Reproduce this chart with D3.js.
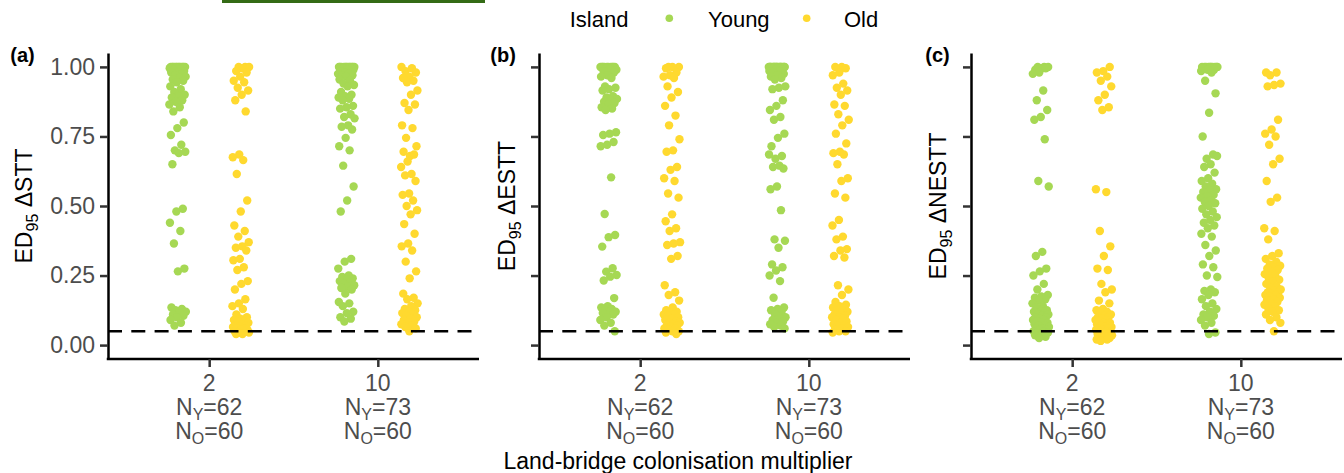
<!DOCTYPE html>
<html><head><meta charset="utf-8">
<script src="https://cdn.jsdelivr.net/npm/d3@7"></script>
<style>
body{margin:0;background:#fff}
svg{display:block}
text{font-family:"Liberation Sans",Arial,Helvetica,sans-serif}
</style>
</head><body>
<svg id="chart" width="1344" height="473"></svg>
<script>
// ---------------- DATA ----------------
const categories = ["2", "10"];
const islandGroups = ["Young", "Old"];
const panelTags = ["(a)", "(b)", "(c)"];
const panelMetrics = ["STT", "ESTT", "NESTT"];
const yTickValues = [0, 0.25, 0.5, 0.75, 1];
const nYoung = [62, 73];
const nOld = [60, 60];
const threshold = 0.05;
const xTitle = "Land-bridge colonisation multiplier";

// Panel (a): ED95 ΔSTT
const sttYoung2 = [1,1,1,1,1,1,1,1,1,1,1,1,0.995,0.99,0.99,0.985,0.98,0.98,
  0.975,0.97,0.965,0.96,0.955,0.95,0.945,0.93,0.92,0.91,0.9,0.895,0.89,0.88,0.875,
  0.865,0.855,0.84,0.80,0.78,0.755,0.72,0.70,0.695,0.69,0.65,
  0.49,0.48,0.44,0.41,0.365,0.275,0.265,
  0.135,0.13,0.125,0.12,0.115,0.11,0.105,0.1,0.09,0.08,0.07];
const sttOld2 = [1,1,1,0.995,0.985,0.98,0.965,0.95,0.945,0.925,0.915,0.9,0.88,0.84,
  0.685,0.675,0.665,0.615,
  0.52,0.48,0.43,0.41,0.39,0.37,0.355,0.35,0.34,0.31,0.305,0.28,0.27,
  0.23,0.22,0.2,0.165,0.15,0.14,0.13,0.11,0.1,
  0.095,0.09,0.085,0.085,0.08,0.075,0.07,0.07,0.065,0.065,0.06,0.06,0.055,0.055,0.05,0.05,0.045,0.045,0.04,0.04];
const sttYoung10 = [1,1,1,1,1,1,1,1,1,1,1,1,0.995,0.99,0.99,
  0.985,0.98,0.98,0.975,0.975,0.97,0.97,0.965,
  0.955,0.95,0.94,0.935,0.93,0.91,0.9,0.895,0.89,0.885,0.88,
  0.86,0.855,0.85,0.83,0.82,0.815,0.79,0.785,0.775,
  0.745,0.715,0.70,0.645,0.57,0.52,0.48,0.31,0.30,0.275,
  0.25,0.245,0.24,0.235,0.23,0.225,0.22,0.215,0.21,0.205,0.2,
  0.185,0.155,0.15,0.14,0.12,0.115,0.1,0.095,0.085];
const sttOld10 = [1,0.995,0.985,0.98,0.965,0.96,0.95,0.945,0.915,0.9,0.87,0.865,0.845,0.79,0.78,0.745,0.715,0.68,
  0.695,0.685,0.66,0.64,0.615,0.61,0.59,
  0.545,0.54,0.52,0.5,0.485,0.47,0.435,
  0.4,0.365,0.355,0.34,0.3,0.265,0.24,
  0.185,0.17,0.165,0.15,0.14,0.13,0.125,0.12,0.115,0.11,0.105,0.1,0.095,0.09,0.085,0.08,0.075,0.07,0.065,0.06,0.05];

// Panel (b): ED95 ΔESTT
const esttYoung2 = [1,1,1,1,1,1,1,1,1,1,0.995,0.99,0.99,0.985,0.98,
  0.97,0.965,0.96,0.93,0.925,0.92,0.915,0.895,0.89,0.885,0.88,0.875,0.87,0.865,
  0.855,0.85,0.845,0.765,0.76,0.755,0.73,0.72,0.715,
  0.603,0.471,0.396,0.388,0.354,0.276,0.264,0.252,0.246,0.232,0.169,
  0.14,0.135,0.13,0.125,0.12,0.12,0.115,0.11,0.1,0.09,0.08,0.07,0.05];
const esttOld2 = [1,1,1,0.995,0.98,0.97,0.965,0.96,0.93,0.91,0.89,0.86,0.825,0.79,0.74,0.70,
  0.695,0.64,0.63,0.6,0.59,0.545,0.53,
  0.47,0.445,0.42,0.41,0.37,0.365,0.36,0.32,0.31,
  0.215,0.19,0.18,0.16,
  0.135,0.125,0.12,0.115,0.11,0.11,0.105,0.1,0.095,0.09,0.085,0.08,0.08,0.075,0.07,0.07,0.065,0.06,0.06,0.055,0.05,0.05,0.045,0.04];
const esttYoung10 = [1,1,1,1,1,1,1,1,1,1,1,1,1,1,1,1,1,1,0.995,0.995,0.99,0.99,0.985,0.985,
  0.98,0.975,0.97,0.965,0.96,0.955,0.93,0.925,0.92,
  0.88,0.86,0.845,0.82,0.81,0.76,0.745,0.715,0.68,0.67,
  0.685,0.645,0.64,0.635,0.57,0.56,0.485,
  0.38,0.375,0.35,0.29,0.28,0.268,0.25,0.23,0.17,
  0.135,0.13,0.125,0.12,0.11,0.1,0.095,0.09,0.085,0.08,0.075,0.07,0.065,0.06];
const esttOld10 = [1,1,0.995,0.98,0.97,0.94,0.925,0.915,0.9,0.865,0.86,0.83,0.81,0.79,0.76,0.725,0.695,0.69,
  0.685,0.65,0.6,0.59,0.545,0.53,
  0.45,0.43,0.39,0.38,0.345,0.34,0.32,0.315,
  0.215,0.2,0.18,
  0.155,0.145,0.14,0.135,0.13,0.125,0.12,0.115,0.11,0.105,0.1,0.1,0.095,0.09,0.085,0.08,0.075,0.07,0.07,0.065,0.06,0.055,0.05,0.05,0.045];

// Panel (c): ED95 ΔNESTT
const nesttYoung2 = [1,1,1,0.995,0.99,0.995,0.98,0.975,0.915,0.88,0.845,0.82,0.81,0.74,
  0.59,0.57,
  0.335,0.32,0.275,0.265,0.25,0.22,0.2,
  0.18,0.175,0.17,0.165,0.16,0.15,0.14,0.135,
  0.125,0.12,0.12,0.115,0.11,0.11,0.105,0.1,0.1,0.095,0.09,0.09,0.085,0.08,0.08,0.075,0.07,0.07,0.065,0.06,0.06,0.055,0.055,0.05,0.05,0.045,0.045,
  0.04,0.035,0.03,0.025];
const nesttOld2 = [1,0.985,0.98,0.965,0.95,0.93,0.9,0.88,0.855,0.845,
  0.56,0.55,0.41,0.355,0.32,0.275,0.27,0.22,0.2,0.19,0.16,0.15,
  0.13,0.125,0.12,0.115,0.11,0.105,0.1,0.1,0.095,0.09,0.09,0.085,0.08,0.08,0.075,0.07,
  0.07,0.065,0.065,0.06,0.06,0.055,0.055,0.05,0.05,0.045,0.045,0.04,0.04,0.035,0.035,
  0.03,0.03,0.025,0.025,0.02,0.02,0.015];
const nesttYoung10 = [1,1,1,1,1,1,1,1,1,1,0.995,0.99,0.99,0.985,0.98,
  0.95,0.905,0.835,0.75,0.685,0.67,
  0.68,0.65,0.64,0.62,0.6,0.59,0.58,0.57,
  0.56,0.555,0.55,0.54,0.535,0.53,0.52,0.515,0.51,0.5,0.49,0.48,
  0.47,0.46,0.45,0.44,0.43,0.42,0.4,0.39,
  0.36,0.34,0.32,0.29,0.28,0.25,0.245,
  0.2,0.195,0.19,0.18,0.165,
  0.15,0.14,0.13,0.12,0.11,0.105,0.1,0.09,0.08,0.07,0.045,0.04];
const nesttOld10 = [0.98,0.98,0.97,0.94,0.935,0.93,0.81,0.775,0.76,0.75,0.72,0.67,
  0.65,0.59,0.53,0.515,0.42,0.41,0.38,
  0.33,0.32,0.31,0.3,0.29,0.285,0.28,0.275,0.27,0.265,0.255,
  0.25,0.24,0.235,0.23,0.22,0.21,0.205,
  0.2,0.195,0.19,0.19,0.185,0.18,0.18,0.175,0.17,0.165,
  0.16,0.155,0.15,0.145,0.14,0.13,0.125,0.12,0.11,0.1,0.09,0.08,0.05];

const panelData = [
  [[sttYoung2, sttOld2], [sttYoung10, sttOld10]],
  [[esttYoung2, esttOld2], [esttYoung10, esttOld10]],
  [[nesttYoung2, nesttOld2], [nesttYoung10, nesttOld10]]
];

// ---------------- STYLE / LAYOUT ----------------
const colors = {Young: "#a6d854", Old: "#ffd92f"};
const panelLeft = [108, 539, 971];
const panelW = 371, panelTop = 53, panelBottom = 359;
const titleX = [31.7, 515, 946];
const tagX = [10.3, 490.3, 925.3];
const axisGrey = "#4d4d4d";
const fs = 23;

const svg = d3.select("#chart");

// artifact line at top
svg.append("rect").attr("x", 222).attr("y", 0).attr("width", 263).attr("height", 3).attr("fill", "#346b16");

const y = d3.scaleLinear().domain([-0.05, 1.05]).range([panelBottom, panelTop]);

panelData.forEach((pd, p) => {
  const g = svg.append("g");
  const x0 = panelLeft[p];
  const x = d3.scalePoint().domain(categories).range([x0, x0 + panelW]).padding(0.6);
  const step = x.step();

  // points
  pd.forEach((catVals, ci) => {
    catVals.forEach((vals, gi) => {
      const dodge = (gi === 0 ? -1 : 1) * 0.1875 * step;
      const seed = (p * 4 + ci * 2 + gi) * 0.137;
      g.selectAll(null).data(vals).enter().append("circle")
        .attr("cx", (d, i) => x(categories[ci]) + dodge + ((((i + 1) * 0.6180339887 + seed) % 1) - 0.5) * 0.1 * step)
        .attr("cy", d => y(d))
        .attr("r", 4.2)
        .attr("fill", colors[islandGroups[gi]]);
    });
  });

  // threshold dashed line
  g.append("line")
    .attr("x1", x0).attr("x2", x0 + panelW)
    .attr("y1", y(threshold)).attr("y2", y(threshold))
    .attr("stroke", "#000").attr("stroke-width", 2.5)
    .attr("stroke-dasharray", "14,9.3");

  // y axis
  const ya = g.append("g").attr("transform", `translate(${x0},0)`)
    .call(d3.axisLeft(y).tickValues(yTickValues).tickSize(8).tickSizeOuter(0).tickPadding(5)
      .tickFormat(p === 0 ? d3.format(".2f") : () => ""));
  ya.select(".domain").attr("stroke", "#000").attr("stroke-width", 2.5);
  ya.selectAll(".tick line").attr("stroke", "#333").attr("stroke-width", 2.5);
  ya.selectAll(".tick text").attr("font-size", fs).attr("fill", axisGrey)
    .attr("font-family", '"Liberation Sans",Arial,sans-serif');

  // x axis
  const xa = g.append("g").attr("transform", `translate(0,${panelBottom})`)
    .call(d3.axisBottom(x).tickSize(8).tickSizeOuter(0).tickFormat(() => ""));
  xa.select(".domain").attr("stroke", "#000").attr("stroke-width", 2.5)
    .attr("d", `M${x0 - 1.25},0H${x0 + panelW}`);
  xa.selectAll(".tick line").attr("stroke", "#333").attr("stroke-width", 2.5);

  categories.forEach((c, ci) => {
    const cx = x(c);
    g.append("text").attr("x", cx).attr("y", 391).attr("text-anchor", "middle")
      .attr("font-size", fs).attr("fill", axisGrey).text(c);
    const t2 = g.append("text").attr("x", cx).attr("y", 415).attr("text-anchor", "middle")
      .attr("font-size", fs).attr("fill", axisGrey);
    t2.append("tspan").text("N");
    t2.append("tspan").attr("font-size", 16).attr("dy", 5).text("Y");
    t2.append("tspan").attr("dy", -5).text("=" + nYoung[ci]);
    const t3 = g.append("text").attr("x", cx).attr("y", 439).attr("text-anchor", "middle")
      .attr("font-size", fs).attr("fill", axisGrey);
    t3.append("tspan").text("N");
    t3.append("tspan").attr("font-size", 16).attr("dy", 5).text("O");
    t3.append("tspan").attr("dy", -5).text("=" + nOld[ci]);
  });

  // y title
  const yt = g.append("text")
    .attr("transform", `translate(${titleX[p]},${(panelTop + panelBottom) / 2}) rotate(-90)`)
    .attr("text-anchor", "middle").attr("font-size", fs).attr("fill", "#000");
  yt.append("tspan").text("ED");
  yt.append("tspan").attr("font-size", 16).attr("dy", 6).text("95");
  yt.append("tspan").attr("dy", -6).text(" \u0394" + panelMetrics[p]);

  // panel tag
  g.append("text").attr("x", tagX[p]).attr("y", 61.7).attr("font-size", 20)
    .attr("font-weight", "bold").attr("fill", "#000").text(panelTags[p]);
});

// x title
svg.append("text").attr("x", 678).attr("y", 468.5).attr("text-anchor", "middle")
  .attr("font-size", fs).attr("fill", "#000").text(xTitle);

// legend
const lg = svg.append("g");
lg.append("text").attr("x", 569.7).attr("y", 26.7).attr("font-size", 22).attr("fill", "#000").text("Island");
const legendDotX = [669.3, 806.7];
const legendTextX = [708, 844];
islandGroups.forEach((grp, i) => {
  lg.append("circle").attr("cx", legendDotX[i]).attr("cy", 18.3).attr("r", 3.8).attr("fill", colors[grp]);
  lg.append("text").attr("x", legendTextX[i]).attr("y", 26.7).attr("font-size", 22).attr("fill", "#000").text(grp);
});
</script>
</body></html>
